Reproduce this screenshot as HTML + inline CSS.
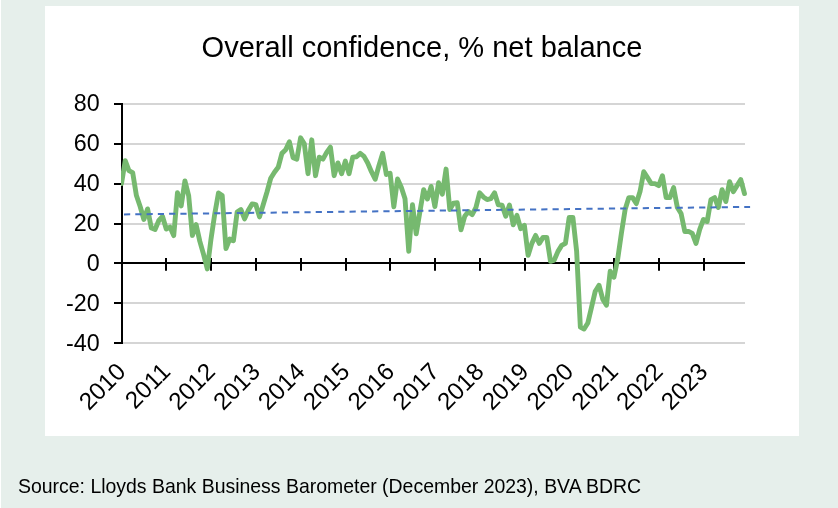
<!DOCTYPE html>
<html><head><meta charset="utf-8"><title>Overall confidence</title>
<style>
html,body{margin:0;padding:0;}
body{width:838px;height:508px;background:#e6efeb;overflow:hidden;position:relative;font-family:"Liberation Sans",sans-serif;}
#panel{position:absolute;left:45px;top:6px;width:754px;height:430px;background:#fff;}
#edge{position:absolute;left:0;top:0;width:1px;height:508px;background:#fff;}
svg{position:absolute;left:0;top:0;will-change:transform;}
svg text{font-family:"Liberation Sans",sans-serif;fill:#000;}
#src{will-change:transform;position:absolute;left:18.4px;top:474px;font-size:19.45px;line-height:24px;color:#000;white-space:nowrap;}
</style></head><body>
<div id="edge"></div>
<div id="panel"></div>
<svg width="838" height="508" viewBox="0 0 838 508">
<text id="title" x="422" y="57.2" text-anchor="middle" font-size="29.05">Overall confidence, % net balance</text>
<line x1="122.0" x2="745.0" y1="104" y2="104" stroke="#d5d5d5" stroke-width="1.9"/>
<line x1="122.0" x2="745.0" y1="144" y2="144" stroke="#d5d5d5" stroke-width="1.9"/>
<line x1="122.0" x2="745.0" y1="184" y2="184" stroke="#d5d5d5" stroke-width="1.9"/>
<line x1="122.0" x2="745.0" y1="224" y2="224" stroke="#d5d5d5" stroke-width="1.9"/>
<line x1="122.0" x2="745.0" y1="303" y2="303" stroke="#d5d5d5" stroke-width="1.9"/>
<line x1="122.0" x2="745.0" y1="343" y2="343" stroke="#d5d5d5" stroke-width="1.9"/>

<line x1="122.0" x2="122.0" y1="103" y2="344" stroke="#000" stroke-width="2"/>
<line x1="122.0" x2="745.0" y1="263" y2="263" stroke="#000" stroke-width="2.2"/>
<line x1="114.0" x2="122.0" y1="104" y2="104" stroke="#000" stroke-width="2"/>
<text x="99.7" y="111.40" text-anchor="end" font-size="23.3">80</text>
<line x1="114.0" x2="122.0" y1="144" y2="144" stroke="#000" stroke-width="2"/>
<text x="99.7" y="151.40" text-anchor="end" font-size="23.3">60</text>
<line x1="114.0" x2="122.0" y1="184" y2="184" stroke="#000" stroke-width="2"/>
<text x="99.7" y="191.40" text-anchor="end" font-size="23.3">40</text>
<line x1="114.0" x2="122.0" y1="224" y2="224" stroke="#000" stroke-width="2"/>
<text x="99.7" y="231.40" text-anchor="end" font-size="23.3">20</text>
<line x1="114.0" x2="122.0" y1="263" y2="263" stroke="#000" stroke-width="2"/>
<text x="99.7" y="271.00" text-anchor="end" font-size="23.3">0</text>
<line x1="114.0" x2="122.0" y1="303" y2="303" stroke="#000" stroke-width="2"/>
<text x="99.7" y="311.00" text-anchor="end" font-size="23.3">-20</text>
<line x1="114.0" x2="122.0" y1="343" y2="343" stroke="#000" stroke-width="2"/>
<text x="99.7" y="351.00" text-anchor="end" font-size="23.3">-40</text>

<line x1="122.00" x2="122.00" y1="257.9" y2="270.8" stroke="#000" stroke-width="2"/>
<text transform="translate(127.10,373.1) rotate(-45)" text-anchor="end" font-size="24.2" x="0" y="0">2010</text>
<line x1="166.00" x2="166.00" y1="257.9" y2="270.8" stroke="#000" stroke-width="2"/>
<text transform="translate(171.87,373.1) rotate(-45)" text-anchor="end" font-size="24.2" x="0" y="0">2011</text>
<line x1="211.00" x2="211.00" y1="257.9" y2="270.8" stroke="#000" stroke-width="2"/>
<text transform="translate(216.63,373.1) rotate(-45)" text-anchor="end" font-size="24.2" x="0" y="0">2012</text>
<line x1="256.00" x2="256.00" y1="257.9" y2="270.8" stroke="#000" stroke-width="2"/>
<text transform="translate(261.40,373.1) rotate(-45)" text-anchor="end" font-size="24.2" x="0" y="0">2013</text>
<line x1="301.00" x2="301.00" y1="257.9" y2="270.8" stroke="#000" stroke-width="2"/>
<text transform="translate(306.17,373.1) rotate(-45)" text-anchor="end" font-size="24.2" x="0" y="0">2014</text>
<line x1="346.00" x2="346.00" y1="257.9" y2="270.8" stroke="#000" stroke-width="2"/>
<text transform="translate(350.93,373.1) rotate(-45)" text-anchor="end" font-size="24.2" x="0" y="0">2015</text>
<line x1="390.00" x2="390.00" y1="257.9" y2="270.8" stroke="#000" stroke-width="2"/>
<text transform="translate(395.70,373.1) rotate(-45)" text-anchor="end" font-size="24.2" x="0" y="0">2016</text>
<line x1="435.00" x2="435.00" y1="257.9" y2="270.8" stroke="#000" stroke-width="2"/>
<text transform="translate(440.47,373.1) rotate(-45)" text-anchor="end" font-size="24.2" x="0" y="0">2017</text>
<line x1="480.00" x2="480.00" y1="257.9" y2="270.8" stroke="#000" stroke-width="2"/>
<text transform="translate(485.23,373.1) rotate(-45)" text-anchor="end" font-size="24.2" x="0" y="0">2018</text>
<line x1="525.00" x2="525.00" y1="257.9" y2="270.8" stroke="#000" stroke-width="2"/>
<text transform="translate(530.00,373.1) rotate(-45)" text-anchor="end" font-size="24.2" x="0" y="0">2019</text>
<line x1="569.00" x2="569.00" y1="257.9" y2="270.8" stroke="#000" stroke-width="2"/>
<text transform="translate(574.76,373.1) rotate(-45)" text-anchor="end" font-size="24.2" x="0" y="0">2020</text>
<line x1="614.00" x2="614.00" y1="257.9" y2="270.8" stroke="#000" stroke-width="2"/>
<text transform="translate(619.53,373.1) rotate(-45)" text-anchor="end" font-size="24.2" x="0" y="0">2021</text>
<line x1="659.00" x2="659.00" y1="257.9" y2="270.8" stroke="#000" stroke-width="2"/>
<text transform="translate(664.30,373.1) rotate(-45)" text-anchor="end" font-size="24.2" x="0" y="0">2022</text>
<line x1="704.00" x2="704.00" y1="257.9" y2="270.8" stroke="#000" stroke-width="2"/>
<text transform="translate(709.06,373.1) rotate(-45)" text-anchor="end" font-size="24.2" x="0" y="0">2023</text>

<clipPath id="cp"><rect x="121" y="90" width="640" height="270"/></clipPath>
<polyline clip-path="url(#cp)" points="121.50,183.63 125.23,160.73 128.96,170.69 132.69,172.68 136.42,195.58 140.15,206.54 143.88,219.48 147.61,208.93 151.34,228.05 155.07,229.44 158.81,220.48 162.54,216.50 166.27,229.04 170.00,227.05 173.73,235.62 177.46,192.60 181.19,205.94 184.92,180.85 188.65,195.58 192.38,235.42 196.11,224.46 199.84,241.39 203.57,254.34 207.30,268.88 211.03,238.80 214.76,213.91 218.49,192.99 222.22,195.58 225.96,248.56 229.69,239.00 233.42,240.79 237.15,212.11 240.88,209.53 244.61,218.89 248.34,210.32 252.07,203.95 255.80,204.55 259.53,216.89 263.26,204.55 266.99,192.00 270.72,178.26 274.45,172.28 278.18,167.30 281.91,153.36 285.64,149.78 289.37,141.81 293.10,157.74 296.84,159.14 300.57,137.82 304.30,143.80 308.03,173.68 311.76,139.82 315.49,175.67 319.22,157.14 322.95,159.14 326.68,152.36 330.41,147.19 334.14,175.67 337.87,162.92 341.60,173.68 345.33,161.13 349.06,173.68 352.79,157.14 356.52,156.75 360.25,153.36 363.99,156.35 367.72,162.92 371.45,171.68 375.18,179.25 378.91,165.71 382.64,153.36 386.37,174.47 390.10,173.28 393.83,206.74 397.56,179.05 401.29,187.22 405.02,198.77 408.75,251.35 412.48,204.75 416.21,233.82 419.94,211.52 423.67,189.61 427.40,198.97 431.13,186.42 434.87,206.54 438.60,182.64 442.33,194.19 446.06,169.09 449.79,209.53 453.52,203.15 457.25,202.75 460.98,229.84 464.71,216.30 468.44,211.52 472.17,214.70 475.90,207.53 479.63,192.80 483.36,196.98 487.09,199.57 490.82,198.57 494.55,192.80 498.28,204.75 502.01,205.14 505.75,216.30 509.48,205.14 513.21,224.86 516.94,215.30 520.67,228.65 524.40,225.46 528.13,255.33 531.86,243.38 535.59,235.42 539.32,243.38 543.05,237.41 546.78,237.41 550.51,261.31 554.24,260.11 557.97,251.35 561.70,245.38 565.43,243.38 569.16,217.49 572.90,217.49 576.63,251.35 580.36,327.03 584.09,329.02 587.82,323.05 591.55,307.12 595.28,291.18 599.01,285.21 602.74,299.15 606.47,305.12 610.20,271.27 613.93,277.24 617.66,259.32 621.39,233.43 625.12,209.53 628.85,197.58 632.58,197.58 636.31,203.55 640.04,191.60 643.78,171.68 647.51,177.66 651.24,183.63 654.97,183.63 658.70,185.62 662.43,175.67 666.16,197.58 669.89,197.58 673.62,187.62 677.35,207.53 681.08,213.51 684.81,231.43 688.54,231.43 692.27,233.43 696.00,243.38 699.73,229.44 703.46,219.48 707.19,221.48 710.93,199.57 714.66,197.58 718.39,207.53 722.12,189.61 725.85,201.56 729.58,181.64 733.31,191.60 737.04,185.62 740.77,179.65 744.50,193.59" fill="none" stroke="#76b96f" stroke-width="4.9" stroke-linejoin="round" stroke-linecap="round"/>
<line x1="124" x2="750.1" y1="214.4" y2="206.9" stroke="#4472c4" stroke-width="2" stroke-dasharray="6.2 5.078"/>
</svg>
<div id="src">Source: Lloyds Bank Business Barometer (December 2023), BVA BDRC</div>
</body></html>
